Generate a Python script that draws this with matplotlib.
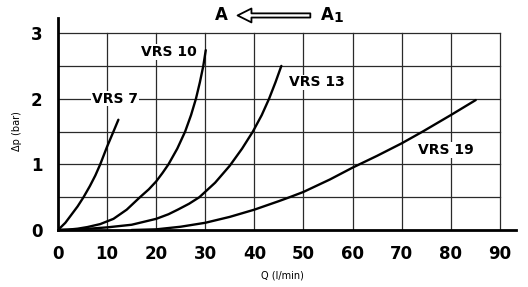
import numpy as np
import matplotlib.pyplot as plt

# flow Q (l/min) vs pressure drop (bar)
q_vrs7 = [0, 1.5, 2.8, 4, 5.2, 6.5, 7.6, 8.6, 10, 11.3, 12.3]
dp_vrs7 = [0, 0.11, 0.24, 0.36, 0.5, 0.67, 0.83, 1.0, 1.27, 1.5, 1.68]

q_vrs10 = [0, 2, 4, 6, 8.6, 11.3, 14, 16.7, 18.5, 20, 21.3, 22.5, 24.3, 25.9, 27.1, 28.1, 28.9, 29.6, 30.1]
dp_vrs10 = [0, 0.005, 0.02, 0.045, 0.09, 0.17, 0.31, 0.5, 0.62, 0.74, 0.87, 1.0, 1.24, 1.5, 1.75, 2.0, 2.25, 2.5, 2.74]

q_vrs13 = [0, 5, 10, 15, 20, 22.5, 24.4, 26.7, 28.8, 32, 35, 37.5, 39.7, 41.5, 43, 44.3, 45.5]
dp_vrs13 = [0, 0.012, 0.04, 0.08, 0.17, 0.24, 0.31, 0.4, 0.5, 0.72, 0.98, 1.24, 1.5, 1.75, 2.0, 2.25, 2.5]

q_vrs19 = [15, 20, 25, 30, 35, 40, 45, 47.2, 50, 55.4, 60, 65, 70, 74.3, 80, 85.1]
dp_vrs19 = [0, 0.01, 0.05, 0.11, 0.2, 0.31, 0.44, 0.5, 0.58, 0.77, 0.95, 1.13, 1.32, 1.5, 1.75, 1.98]

curve_labels = ["VRS 7", "VRS 10", "VRS 13", "VRS 19"]
label_pos = [(11.6, 2.0), (22.5, 2.71), (52.7, 2.25), (79, 1.22)]

x_ticks = [0, 10, 20, 30, 40, 50, 60, 70, 80, 90]
y_ticks = [0, 1, 2, 3]

fig = plt.figure(figsize=(5.28, 2.87), dpi=100)
ax = fig.add_axes([58 / 528, 57 / 287, 458 / 528, 212 / 287])

# grid only inside the 0..90 / 0..3 box
grid_c = "#2a2a2a"
for gx in x_ticks[1:]:
    ax.plot([gx, gx], [0, 3], color=grid_c, lw=0.9, zorder=1)
for gy in np.arange(0.5, 3.01, 0.5):
    ax.plot([0, 90], [gy, gy], color=grid_c, lw=0.9, zorder=1)

for q, dp in [(q_vrs7, dp_vrs7), (q_vrs10, dp_vrs10), (q_vrs13, dp_vrs13), (q_vrs19, dp_vrs19)]:
    ax.plot(q, dp, color="black", lw=1.7, solid_capstyle="round", solid_joinstyle="round", zorder=3)

for lab, (lx, ly) in zip(curve_labels, label_pos):
    ax.text(lx, ly, lab, ha="center", va="center", fontsize=10, fontweight="bold",
            bbox=dict(fc="white", ec="none", pad=0.5), zorder=2)

ax.set_xlim(0, 93.3)
ax.set_ylim(0, 3.23)
ax.set_xticks(x_ticks)
ax.set_yticks(y_ticks)
ax.tick_params(length=0, labelsize=12, pad=11)
for t in ax.get_xticklabels() + ax.get_yticklabels():
    t.set_fontweight("bold")

for s in ["top", "right"]:
    ax.spines[s].set_visible(False)
ax.spines["left"].set_linewidth(2)
ax.spines["bottom"].set_linewidth(2)

ax.set_xlabel("Q (l/min)", fontsize=7)
ax.set_ylabel("Δp (bar)", fontsize=7)
ax.xaxis.set_label_coords(0.489, -0.19)
ax.yaxis.set_label_coords(-0.079, 0.467)

# flow direction arrow above the plot
ax.annotate("", xy=(0.386, 1.012), xytext=(0.557, 1.012), xycoords="axes fraction",
            arrowprops=dict(arrowstyle="simple,head_length=1.0,head_width=1.0,tail_width=0.3",
                            fc="white", ec="black", lw=1.3), annotation_clip=False)
ax.text(0.357, 1.012, "A", transform=ax.transAxes, ha="center", va="center",
        fontsize=12, fontweight="bold", clip_on=False)
ax.text(0.574, 1.012, "A", transform=ax.transAxes, ha="left", va="center",
        fontsize=12, fontweight="bold", clip_on=False)
ax.text(0.602, 1.0, "1", transform=ax.transAxes, ha="left", va="center",
        fontsize=10, fontweight="bold", clip_on=False)

fig.savefig("out.png", dpi=100)
